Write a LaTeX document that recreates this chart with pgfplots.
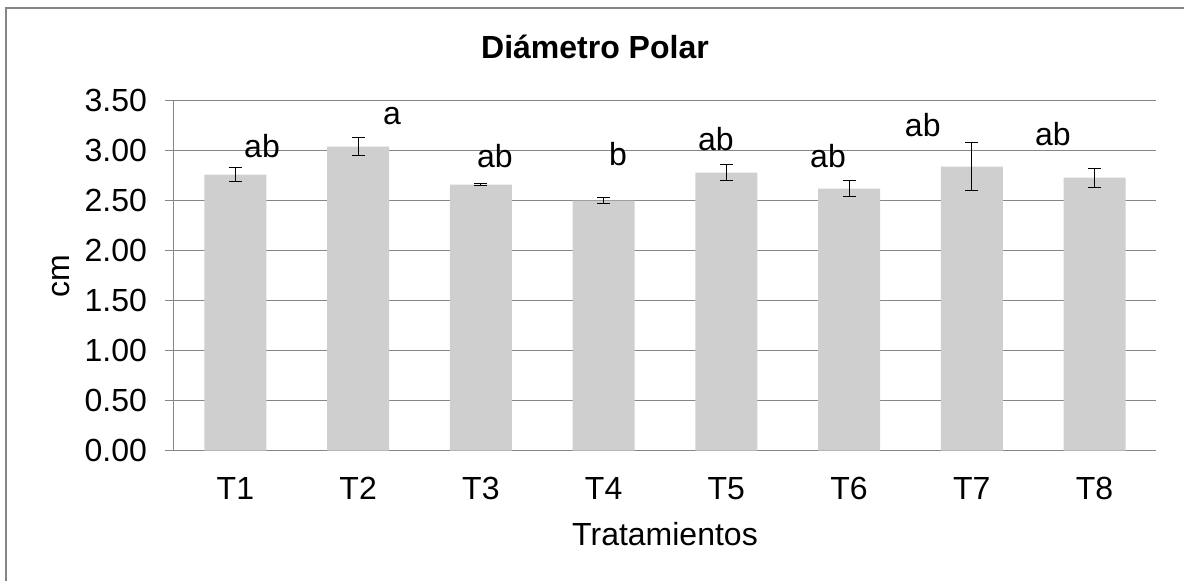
\documentclass[border=0pt]{standalone}
\usepackage{pgfplots}
\pgfplotsset{compat=1.18}
\usepackage{fontspec}
\setmainfont{Liberation Sans}
\newcommand\f{\fontsize{16pt}{19pt}\selectfont}
\definecolor{barfill}{RGB}{208,207,207}
\definecolor{gridc}{RGB}{134,134,134}
\definecolor{framec}{RGB}{134,134,134}
\pgfplotstableread{
x  y     e
0  2.76  0.07
1  3.04  0.09
2  2.66  0.01
3  2.50  0.03
4  2.78  0.08
5  2.62  0.08
6  2.84  0.24
7  2.73  0.095
}\datatable
\begin{document}
\begin{tikzpicture}[x=1pt,y=1pt]
\useasboundingbox (0,0) rectangle (592,290.5);
\draw[framec, line width=0.8pt] (3,0) -- (3,286.5) -- (592,286.5);
\begin{axis}[
  at={(87pt,65.15pt)}, anchor=south west,
  scale only axis, width=491pt, height=175pt,
  xmin=-0.5, xmax=7.5, ymin=0, ymax=3.5,
  xtick={0,...,7}, xticklabels={T1,T2,T3,T4,T5,T6,T7,T8},
  ytick={0,0.5,...,3.5},
  /pgf/number format/assume math mode=true,
  /pgf/number format/fixed, /pgf/number format/fixed zerofill, /pgf/number format/precision=2,
  ymajorgrids, grid style={gridc, line width=0.5pt},
  axis x line*=bottom, axis y line*=left,
  axis line style={gridc, line width=0.5pt},
  x axis line style={-}, y axis line style={-},
  tick style={gridc, line width=0.5pt},
  xtick style={draw=none},
  ytick align=outside, major tick length=4.5pt,
  tick label style={font=\f, text=black},
  yticklabel style={xshift=-5.5pt},
  xticklabel style={anchor=base, yshift=-24.6pt},
  clip=false,
]
\addplot[ybar, bar width=31pt, fill=barfill, draw=none, bar shift=0pt,
  error bars/.cd, y dir=both, y explicit,
  error bar style={black, line width=0.5pt},
  error mark options={rotate=90, mark size=3.25pt, black, line width=0.5pt}]
  table[x=x, y=y, y error=e] {\datatable};
\node[font=\f] at (axis cs:0.217,3.05) {ab};
\node[font=\f] at (axis cs:1.276,3.35) {a};
\node[font=\f] at (axis cs:2.115,2.95) {ab};
\node[font=\f] at (axis cs:3.117,2.97) {b};
\node[font=\f] at (axis cs:3.915,3.12) {ab};
\node[font=\f] at (axis cs:4.828,2.95) {ab};
\node[font=\f] at (axis cs:5.600,3.26) {ab};
\node[font=\f] at (axis cs:6.660,3.17) {ab};
\end{axis}
\node[font=\f\bfseries] at (297.5,267) {Diámetro Polar};
\node[font=\f] at (332.5,23.5) {Tratamientos};
\node[font=\f, rotate=90] at (30.5,152.5) {cm};
\end{tikzpicture}
\end{document}
